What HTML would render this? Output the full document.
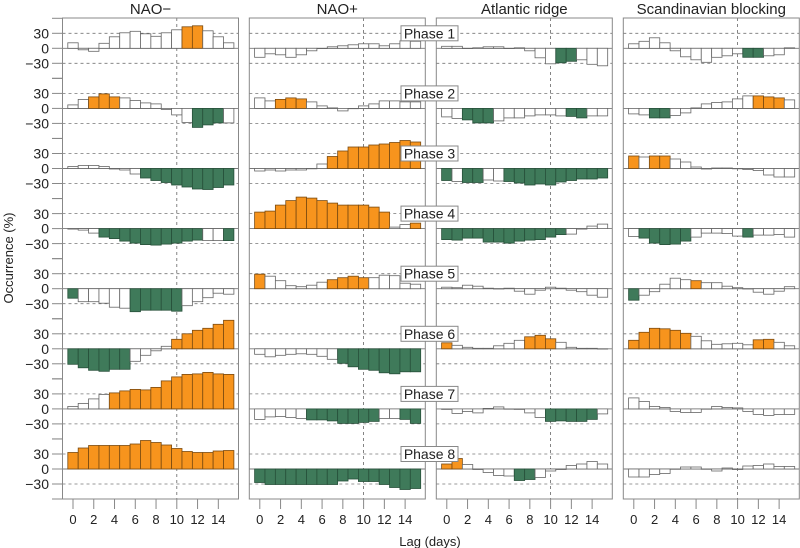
<!DOCTYPE html>
<html><head><meta charset="utf-8">
<style>
html,body{margin:0;padding:0;background:#fff;}
svg{display:block;font-family:"Liberation Sans",Arial,sans-serif;}
</style></head>
<body>
<svg id="s" width="800" height="548" viewBox="0 0 800 548" xmlns="http://www.w3.org/2000/svg">
<g id="plot"></g>
<g font-size="15" fill="#222" text-anchor="middle">
<text x="150.5" y="14">NAO−</text>
<text x="337.3" y="14">NAO+</text>
<text x="524.3" y="14">Atlantic ridge</text>
<text x="711.3" y="14">Scandinavian blocking</text>
</g>
<g font-size="14" fill="#222" text-anchor="end" id="ylab">
<text x="49" y="38.5">30</text><text x="49" y="53.3">0</text><text x="49" y="68.5">−30</text>
<text x="49" y="98.6">30</text><text x="49" y="113.4">0</text><text x="49" y="128.6">−30</text>
<text x="49" y="158.7">30</text><text x="49" y="173.5">0</text><text x="49" y="188.7">−30</text>
<text x="49" y="218.8">30</text><text x="49" y="233.6">0</text><text x="49" y="248.8">−30</text>
<text x="49" y="278.9">30</text><text x="49" y="293.7">0</text><text x="49" y="308.9">−30</text>
<text x="49" y="339">30</text><text x="49" y="353.8">0</text><text x="49" y="369">−30</text>
<text x="49" y="399.1">30</text><text x="49" y="413.9">0</text><text x="49" y="429.1">−30</text>
<text x="49" y="459.2">30</text><text x="49" y="474">0</text><text x="49" y="489.2">−30</text>
</g>
<g font-size="13" fill="#222" text-anchor="middle" id="xlab"></g>
<text x="430" y="546" font-size="13" fill="#222" text-anchor="middle">Lag (days)</text>
<text x="0" y="0" font-size="13" fill="#222" text-anchor="middle" transform="translate(13,258) rotate(-90)">Occurrence (%)</text>
<g id="phases" font-size="14" fill="#222" text-anchor="middle"></g>
</svg>
<script>
var NS="http://www.w3.org/2000/svg";
function el(p,t,a,txt){var e=document.createElementNS(NS,t);for(var k in a)e.setAttribute(k,a[k]);if(txt!==undefined)e.textContent=txt;p.appendChild(e);return e;}
var D=[
[[[11,-3,-6,10,23,31,34,29,24,31,37,43,45,35,23,11],"wwwwwwwwwwwoowww"],
 [[7,18,23,29,23,21,16,11,9,-2,-13,-28,-38,-33,-29,-29],"wwooowwwwwwwgggw"],
 [[4,6,6,4,-1,-3,-11,-19,-24,-28,-33,-37,-41,-42,-38,-33],"wwwwwwwggggggggg"],
 [[-1,-3,-9,-17,-20,-25,-29,-32,-33,-31,-29,-25,-23,-24,-24,-24],"wwwggggggggggwwg"],
 [[-19,-26,-26,-29,-37,-39,-46,-43,-43,-43,-45,-34,-26,-18,-9,-11],"gwwwwwgggggwwwww"],
 [[-31,-38,-43,-45,-41,-41,-25,-13,-4,5,19,30,37,41,49,57],"ggggggwwwwoooooo"],
 [[5,11,20,29,32,36,39,38,43,56,64,69,70,73,70,69],"wwwwoooooooooooo"],
 [[33,42,47,47,47,47,50,57,53,48,41,35,33,33,36,37],"oooooooooooooooo"]],
[[[-18,-11,-13,-18,-13,-5,0,3,5,7,9,9,5,9,15,14],"wwwwwwwwwwwwwwww"],
 [[21,15,18,21,19,13,5,1,-5,0,5,9,15,15,13,13],"wwooowwwwwwwwwww"],
 [[-5,-3,-5,-3,-3,0,9,24,35,43,43,47,49,52,56,53],"wwwwwwwooooooooo"],
 [[33,35,47,56,63,61,56,51,47,47,47,43,33,3,8,11],"ooooooooooooowwo"],
 [[29,25,16,6,4,7,13,18,22,25,22,22,27,26,11,9],"owwwwwwoooowwwww"],
 [[-11,-16,-13,-11,-10,-11,-15,-21,-29,-36,-41,-43,-48,-50,-46,-46],"wwwwwwwwgggggggg"],
 [[-21,-16,-15,-17,-19,-22,-22,-24,-29,-29,-27,-25,-19,-19,-21,-29],"wwwwwgggggggwwgg"],
 [[-27,-31,-31,-31,-31,-31,-31,-31,-24,-20,-25,-25,-31,-37,-41,-39],"gggggggggggggggg"]],
[[[4,4,0,1,3,3,0,1,-5,-19,-31,-29,-26,-23,-32,-35],"wwwwwwwwwwwggwww"],
 [[-17,-20,-23,-29,-29,-25,-19,-19,-15,-13,-13,-15,-16,-19,-15,-15],"wwgggwwwwwwwggww"],
 [[-24,-26,-28,-28,-23,-25,-26,-29,-33,-31,-33,-27,-24,-21,-21,-19],"gwggwwgggggggggg"],
 [[-22,-23,-19,-19,-27,-27,-29,-25,-23,-22,-17,-12,-11,-1,5,9],"ggggggggggggwwww"],
 [[3,2,7,5,1,0,1,-5,-11,-3,3,1,-3,-6,-13,-17],"wwwwwwwwwwwwwwww"],
 [[12,7,3,1,1,6,11,17,24,27,20,13,3,1,1,0],"owwwwwwwooowwwww"],
 [[-1,-9,-5,-8,1,4,0,-1,-8,-17,-25,-24,-25,-25,-21,-10],"wwwwwwwwwwgggggw"],
 [[10,21,9,-1,-7,-13,-14,-23,-21,-17,-4,-1,7,10,15,10],"oowwwwwggwwwwwww"]],
[[[9,14,21,11,-5,-17,-23,-28,-18,-15,-11,-18,-18,-15,-13,1],"wwwwwwwwwwwggwww"],
 [[-11,-13,-19,-19,-14,-9,1,9,12,13,19,25,25,23,21,17],"wwggwwwwwwwwooow"],
 [[25,23,25,25,19,13,3,-1,1,1,0,-2,-4,-13,-17,-17],"owoowwwwwwwwwwww"],
 [[-16,-19,-29,-32,-31,-25,-17,-9,-9,-10,-15,-17,-13,-13,-12,-17],"wgggggwwwwwgwwww"],
 [[-23,-13,-6,9,21,18,16,12,12,5,2,0,-7,-11,-5,4],"gwwwwwowwwwwwwww"],
 [[17,33,41,40,37,31,25,16,9,10,11,8,18,19,13,6],"oooooowwwwwwooww"],
 [[22,15,5,3,-5,-7,-7,0,5,3,2,-5,-11,-13,-11,-11],"wwwwwwwwwwwwwwww"],
 [[-16,-16,-11,-9,0,4,4,0,-4,2,-1,6,7,10,5,5],"wwwwwwwwwwwwwwww"]]
];
var PL=[62.5,249.3,436.3,623.3],PW=176,TOP=18,BOT=499;
var g=document.getElementById("plot"),xl=document.getElementById("xlab"),ph=document.getElementById("phases");
var FILL={w:"#ffffff",o:"#f7941d",g:"#3f7a5a"},STR={w:"#666",o:"#7a4a10",g:"#27503a"};
function Z(i){return 48.3+60.1*i;}
var BW=10.38;
for(var p=0;p<4;p++){
  var L=PL[p];
  for(var i=0;i<8;i++){
    var z=Z(i);
    el(g,"line",{x1:L,x2:L+PW,y1:z-15,y2:z-15,stroke:"#777","stroke-width":0.8,"stroke-dasharray":"3,3"});
    el(g,"line",{x1:L,x2:L+PW,y1:z+15,y2:z+15,stroke:"#777","stroke-width":0.8,"stroke-dasharray":"3,3"});
  }
  var x10=L+10.5+10*BW;
  el(g,"line",{x1:x10,x2:x10,y1:TOP,y2:BOT,stroke:"#666","stroke-width":0.8,"stroke-dasharray":"3,3"});
  for(var i=0;i<8;i++){
    var z=Z(i),v=D[p][i][0],c=D[p][i][1];
    el(g,"line",{x1:L,x2:L+PW,y1:z,y2:z,stroke:"#777","stroke-width":0.9});
    for(var b=0;b<16;b++){
      var h=v[b]*0.5,cx=L+10.5+b*BW,col=c[b];
      var y=h>=0?z-h:z,hh=Math.abs(h);
      el(g,"rect",{x:cx-BW/2,y:y,width:BW,height:Math.max(hh,0.3),fill:FILL[col],stroke:STR[col],"stroke-width":0.8});
    }
  }
  el(g,"rect",{x:L,y:TOP,width:PW,height:BOT-TOP,fill:"none",stroke:"#888","stroke-width":1});
  for(var t=0;t<=14;t+=2){
    var tx=L+10.5+t*BW;
    el(g,"line",{x1:tx,x2:tx,y1:BOT,y2:BOT+10,stroke:"#888","stroke-width":1});
    el(xl,"text",{x:tx,y:524},String(t));
  }
}
// left ticks
for(var i=0;i<8;i++){
  var z=Z(i);
  [-30,-15,0,15,30].forEach(function(o){
    el(g,"line",{x1:52,x2:62.5,y1:z+o,y2:z+o,stroke:"#888","stroke-width":1});
  });
}
el(g,"line",{x1:52,x2:62.5,y1:BOT,y2:BOT,stroke:"#888","stroke-width":1});
for(var i=0;i<8;i++){
  var y=Z(i)-15;
  el(ph,"rect",{x:401,y:y-7.5,width:57,height:15,fill:"#fff",stroke:"#888","stroke-width":1});
  el(ph,"text",{x:429.5,y:y+5},"Phase "+(i+1));
}
</script>
</body></html>
